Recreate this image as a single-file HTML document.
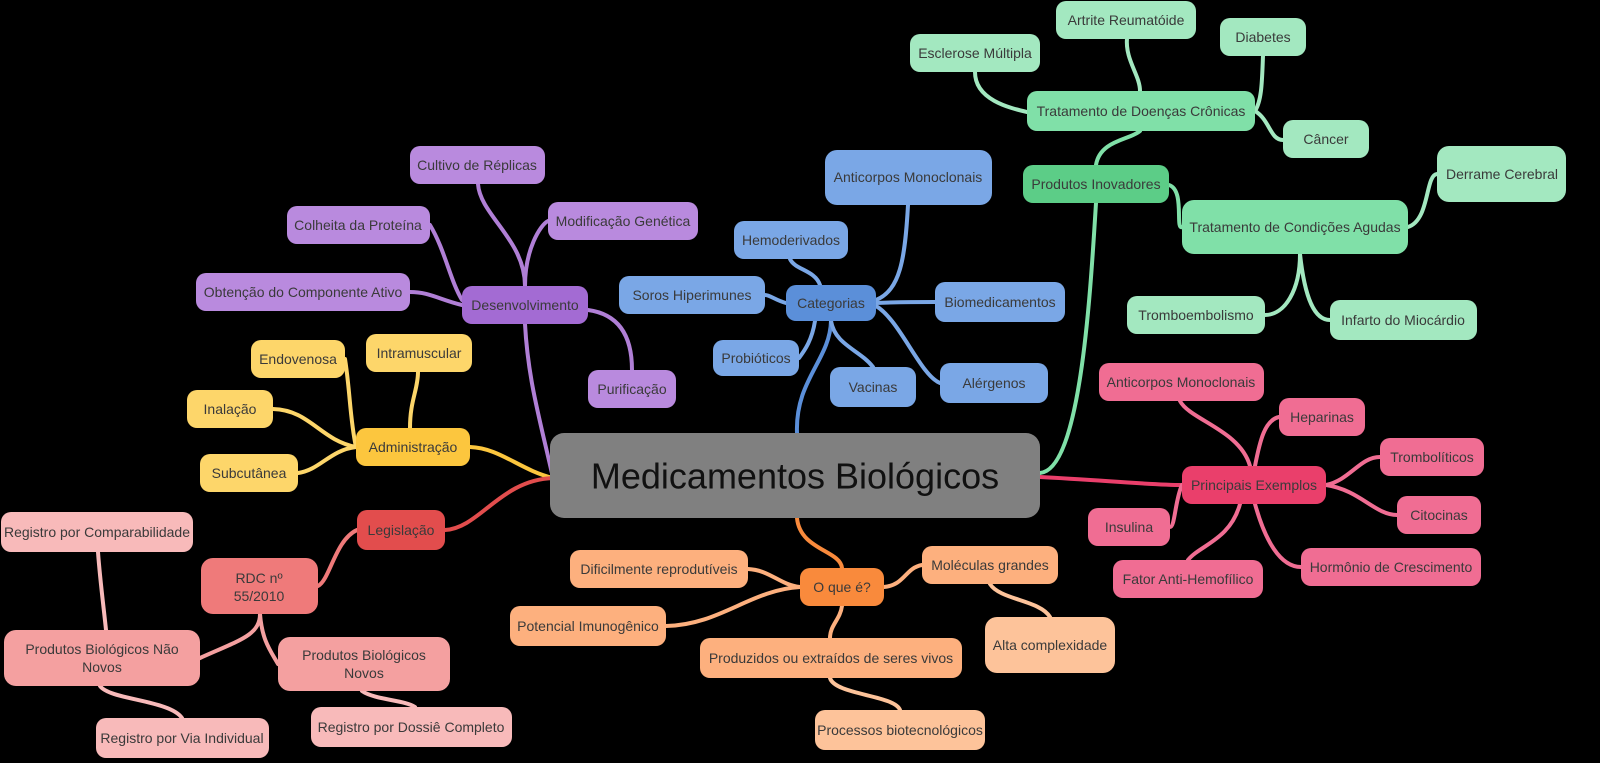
<!DOCTYPE html>
<html><head><meta charset="utf-8"><style>
html,body{margin:0;padding:0;background:#000;}
svg{display:block;}
text{font-family:"Liberation Sans",sans-serif;font-size:14px;fill:#3a3a3a;text-anchor:middle;dominant-baseline:central;}
path{fill:none;stroke-width:4;stroke-linecap:round;}
</style></head><body>
<svg width="1600" height="763" viewBox="0 0 1600 763" xmlns="http://www.w3.org/2000/svg">
<rect width="1600" height="763" fill="#000"/>
<!-- edges -->
<g>
<!-- purple -->
<path stroke="#b07fd6" d="M553,478 C540,420 528,380 525,324"/>
<path stroke="#b07fd6" d="M525,286 C525,240 480,215 478,184"/>
<path stroke="#b07fd6" d="M525,286 C525,250 540,225 548,221"/>
<path stroke="#b07fd6" d="M462,300 C450,280 445,250 430,225"/>
<path stroke="#b07fd6" d="M462,305 C440,300 430,292 410,292"/>
<path stroke="#b07fd6" d="M588,310 C625,315 632,345 632,370"/>
<!-- yellow -->
<path stroke="#fcc63e" d="M553,478 C520,470 500,448 470,447"/>
<path stroke="#fdd66a" d="M356,447 C350,420 350,390 345,359"/>
<path stroke="#fdd66a" d="M410,428 C410,400 418,390 418,372"/>
<path stroke="#fdd66a" d="M356,447 C320,440 310,410 273,409"/>
<path stroke="#fdd66a" d="M356,447 C330,450 320,470 298,473"/>
<!-- red -->
<path stroke="#e24d4d" d="M553,478 C500,480 480,528 445,530"/>
<path stroke="#ef7a7a" d="M357,530 C335,540 330,580 318,586"/>
<path stroke="#f4a0a0" d="M260,614 C260,635 240,640 200,658"/>
<path stroke="#f4a0a0" d="M260,614 C262,640 270,650 278,664"/>
<path stroke="#f8baba" d="M98,552 C100,580 104,610 106,630"/>
<path stroke="#f8baba" d="M100,686 C110,700 170,700 182,718"/>
<path stroke="#f8baba" d="M362,691 C375,700 405,700 415,707"/>
<!-- blue -->
<path stroke="#5b8fd9" d="M797,433 C795,380 830,360 831,321"/>
<path stroke="#7aa7e6" d="M876,300 C900,290 905,260 908,205"/>
<path stroke="#7aa7e6" d="M820,285 C815,270 795,270 790,259"/>
<path stroke="#7aa7e6" d="M786,303 C775,300 770,295 765,295"/>
<path stroke="#7aa7e6" d="M876,303 C900,302 915,302 935,302"/>
<path stroke="#7aa7e6" d="M815,321 C812,340 805,350 799,358"/>
<path stroke="#7aa7e6" d="M831,321 C835,345 860,350 873,367"/>
<path stroke="#7aa7e6" d="M876,306 C900,320 920,375 940,383"/>
<!-- orange -->
<path stroke="#f98a3c" d="M797,518 C800,550 840,550 842,568"/>
<path stroke="#fdb07e" d="M800,587 C780,585 770,570 748,569"/>
<path stroke="#fdb07e" d="M884,587 C905,585 905,568 922,565"/>
<path stroke="#fdb07e" d="M800,587 C750,590 720,625 666,626"/>
<path stroke="#fdb07e" d="M842,606 C840,620 830,625 830,638"/>
<path stroke="#fdc39a" d="M990,584 C1000,600 1040,600 1050,617"/>
<path stroke="#fdc39a" d="M830,678 C835,695 895,695 900,710"/>
<!-- green -->
<path stroke="#80e0a8" d="M1040,473 C1080,470 1090,300 1096,203"/>
<path stroke="#80e0a8" d="M1096,165 C1100,140 1130,140 1140,131"/>
<path stroke="#a3e8c0" d="M1127,38 C1125,60 1140,75 1140,91"/>
<path stroke="#a3e8c0" d="M975,72 C975,100 1010,108 1027,112"/>
<path stroke="#a3e8c0" d="M1255,111 C1262,100 1262,80 1263,56"/>
<path stroke="#a3e8c0" d="M1255,111 C1270,120 1270,140 1283,140"/>
<path stroke="#80e0a8" d="M1169,185 C1185,190 1175,230 1182,227"/>
<path stroke="#a3e8c0" d="M1408,227 C1430,220 1425,175 1437,174"/>
<path stroke="#a3e8c0" d="M1300,254 C1300,290 1285,315 1265,315"/>
<path stroke="#a3e8c0" d="M1300,254 C1305,300 1315,320 1330,320"/>
<!-- pink -->
<path stroke="#ea3f6b" d="M1040,477 C1100,480 1150,485 1182,485"/>
<path stroke="#f06d93" d="M1250,466 C1240,430 1190,420 1180,401"/>
<path stroke="#f06d93" d="M1255,466 C1260,440 1265,420 1279,417"/>
<path stroke="#f06d93" d="M1326,485 C1350,480 1360,457 1380,457"/>
<path stroke="#f06d93" d="M1326,485 C1360,490 1375,515 1397,515"/>
<path stroke="#f06d93" d="M1182,485 C1175,500 1175,527 1170,527"/>
<path stroke="#f06d93" d="M1240,504 C1230,540 1200,545 1188,560"/>
<path stroke="#f06d93" d="M1255,504 C1265,540 1280,567 1301,567"/>
</g>
<!-- nodes -->
<g>
<rect x="550" y="433" width="490" height="85" rx="14" fill="#808080"/>
<text x="795" y="476" style="font-size:36px;fill:#111">Medicamentos Biológicos</text>

<rect x="410" y="146" width="135" height="38" rx="10" fill="#b98ade"/><text x="477" y="165">Cultivo de Réplicas</text>
<rect x="287" y="206" width="143" height="38" rx="10" fill="#b98ade"/><text x="358" y="225">Colheita da Proteína</text>
<rect x="548" y="202" width="150" height="38" rx="10" fill="#b98ade"/><text x="623" y="221">Modificação Genética</text>
<rect x="196" y="273" width="214" height="38" rx="10" fill="#b98ade"/><text x="303" y="292">Obtenção do Componente Ativo</text>
<rect x="462" y="286" width="126" height="38" rx="10" fill="#a36bd3"/><text x="525" y="305">Desenvolvimento</text>
<rect x="588" y="370" width="88" height="38" rx="10" fill="#b98ade"/><text x="632" y="389">Purificação</text>

<rect x="825" y="150" width="167" height="55" rx="12" fill="#7aa7e6"/><text x="908" y="177">Anticorpos Monoclonais</text>
<rect x="734" y="221" width="114" height="38" rx="10" fill="#7aa7e6"/><text x="791" y="240">Hemoderivados</text>
<rect x="619" y="276" width="146" height="38" rx="10" fill="#7aa7e6"/><text x="692" y="295">Soros Hiperimunes</text>
<rect x="786" y="285" width="90" height="36" rx="10" fill="#5b8fd9"/><text x="831" y="303">Categorias</text>
<rect x="935" y="282" width="130" height="40" rx="10" fill="#7aa7e6"/><text x="1000" y="302">Biomedicamentos</text>
<rect x="713" y="340" width="86" height="36" rx="10" fill="#7aa7e6"/><text x="756" y="358">Probióticos</text>
<rect x="830" y="367" width="86" height="40" rx="10" fill="#7aa7e6"/><text x="873" y="387">Vacinas</text>
<rect x="940" y="363" width="108" height="40" rx="10" fill="#7aa7e6"/><text x="994" y="383">Alérgenos</text>

<rect x="1056" y="1" width="140" height="38" rx="10" fill="#a3e8c0"/><text x="1126" y="20">Artrite Reumatóide</text>
<rect x="910" y="34" width="130" height="38" rx="10" fill="#a3e8c0"/><text x="975" y="53">Esclerose Múltipla</text>
<rect x="1220" y="18" width="86" height="38" rx="10" fill="#a3e8c0"/><text x="1263" y="37">Diabetes</text>
<rect x="1027" y="91" width="228" height="40" rx="10" fill="#80e0a8"/><text x="1141" y="111">Tratamento de Doenças Crônicas</text>
<rect x="1283" y="120" width="86" height="38" rx="10" fill="#a3e8c0"/><text x="1326" y="139">Câncer</text>
<rect x="1437" y="146" width="129" height="56" rx="12" fill="#a3e8c0"/><text x="1502" y="174">Derrame Cerebral</text>
<rect x="1023" y="165" width="146" height="38" rx="10" fill="#5ccd87"/><text x="1096" y="184">Produtos Inovadores</text>
<rect x="1182" y="200" width="226" height="54" rx="12" fill="#80e0a8"/><text x="1295" y="227">Tratamento de Condições Agudas</text>
<rect x="1127" y="296" width="138" height="38" rx="10" fill="#a3e8c0"/><text x="1196" y="315">Tromboembolismo</text>
<rect x="1330" y="300" width="147" height="40" rx="10" fill="#a3e8c0"/><text x="1403" y="320">Infarto do Miocárdio</text>

<rect x="1099" y="363" width="165" height="38" rx="10" fill="#f06d93"/><text x="1181" y="382">Anticorpos Monoclonais</text>
<rect x="1279" y="398" width="86" height="38" rx="10" fill="#f06d93"/><text x="1322" y="417">Heparinas</text>
<rect x="1380" y="438" width="104" height="38" rx="10" fill="#f06d93"/><text x="1432" y="457">Trombolíticos</text>
<rect x="1182" y="466" width="144" height="38" rx="10" fill="#ea3f6b"/><text x="1254" y="485">Principais Exemplos</text>
<rect x="1088" y="508" width="82" height="38" rx="10" fill="#f06d93"/><text x="1129" y="527">Insulina</text>
<rect x="1397" y="496" width="84" height="38" rx="10" fill="#f06d93"/><text x="1439" y="515">Citocinas</text>
<rect x="1113" y="560" width="150" height="38" rx="10" fill="#f06d93"/><text x="1188" y="579">Fator Anti-Hemofílico</text>
<rect x="1301" y="548" width="180" height="38" rx="10" fill="#f06d93"/><text x="1391" y="567">Hormônio de Crescimento</text>

<rect x="251" y="340" width="94" height="38" rx="10" fill="#fdd66a"/><text x="298" y="359">Endovenosa</text>
<rect x="366" y="334" width="106" height="38" rx="10" fill="#fdd66a"/><text x="419" y="353">Intramuscular</text>
<rect x="187" y="390" width="86" height="38" rx="10" fill="#fdd66a"/><text x="230" y="409">Inalação</text>
<rect x="356" y="428" width="114" height="38" rx="10" fill="#fcc63e"/><text x="413" y="447">Administração</text>
<rect x="200" y="454" width="98" height="38" rx="10" fill="#fdd66a"/><text x="249" y="473">Subcutânea</text>

<rect x="357" y="510" width="88" height="40" rx="10" fill="#e24d4d"/><text x="401" y="530">Legislação</text>
<rect x="201" y="558" width="117" height="56" rx="12" fill="#ef7a7a"/><text x="259" y="578">RDC nº</text><text x="259" y="596">55/2010</text>
<rect x="4" y="630" width="196" height="56" rx="12" fill="#f4a0a0"/><text x="102" y="649">Produtos Biológicos Não</text><text x="102" y="667">Novos</text>
<rect x="278" y="637" width="172" height="54" rx="12" fill="#f4a0a0"/><text x="364" y="655">Produtos Biológicos</text><text x="364" y="673">Novos</text>
<rect x="1" y="512" width="192" height="40" rx="10" fill="#f8baba"/><text x="97" y="532">Registro por Comparabilidade</text>
<rect x="96" y="718" width="173" height="40" rx="10" fill="#f8baba"/><text x="182" y="738">Registro por Via Individual</text>
<rect x="311" y="707" width="201" height="40" rx="10" fill="#f8baba"/><text x="411" y="727">Registro por Dossiê Completo</text>

<rect x="800" y="568" width="84" height="38" rx="10" fill="#f98a3c"/><text x="842" y="587">O que é?</text>
<rect x="570" y="550" width="178" height="38" rx="10" fill="#fdb07e"/><text x="659" y="569">Dificilmente reprodutíveis</text>
<rect x="922" y="546" width="136" height="38" rx="10" fill="#fdb07e"/><text x="990" y="565">Moléculas grandes</text>
<rect x="510" y="606" width="156" height="40" rx="10" fill="#fdb07e"/><text x="588" y="626">Potencial Imunogênico</text>
<rect x="985" y="617" width="130" height="56" rx="12" fill="#fdc39a"/><text x="1050" y="645">Alta complexidade</text>
<rect x="700" y="638" width="262" height="40" rx="10" fill="#fdb07e"/><text x="831" y="658">Produzidos ou extraídos de seres vivos</text>
<rect x="815" y="710" width="170" height="40" rx="10" fill="#fdc39a"/><text x="900" y="730">Processos biotecnológicos</text>
</g>
</svg>
</body></html>
